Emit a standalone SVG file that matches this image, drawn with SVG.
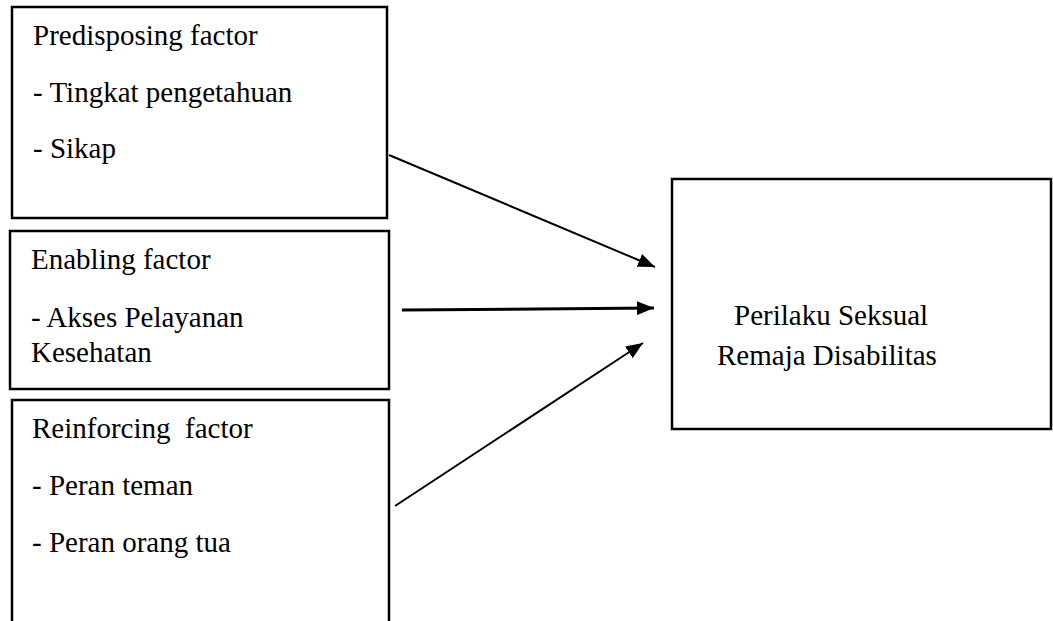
<svg xmlns="http://www.w3.org/2000/svg" width="1053" height="621" viewBox="0 0 1053 621">
<style>
.box{fill:#fff;stroke:#000;stroke-width:2.5}
.t{font-family:"Liberation Serif","Times New Roman",serif;font-size:29px;fill:#000}
.c{stroke:#000;fill:none}
</style>
<defs>
<marker id="ah" markerUnits="userSpaceOnUse" markerWidth="18" markerHeight="14" refX="17" refY="7" orient="auto">
<path d="M0,0 L17,7 L0,14 Z" fill="#000"/>
</marker>
</defs>
<rect width="1053" height="621" fill="#fff"/>
<g id="predisposing">
<rect class="box" x="12" y="7" width="375" height="211"/>
<text class="t" x="33" y="45">Predisposing factor</text>
<text class="t" x="33" y="102">- Tingkat pengetahuan</text>
<text class="t" x="33" y="158">- Sikap</text>
</g>
<g id="enabling">
<rect class="box" x="10" y="231" width="379" height="158"/>
<text class="t" x="31" y="269">Enabling factor</text>
<text class="t" x="31" y="327">- Akses Pelayanan</text>
<text class="t" x="31" y="362">Kesehatan</text>
</g>
<g id="reinforcing">
<rect class="box" x="12" y="400" width="377" height="240"/>
<text class="t" x="32" y="438" xml:space="preserve">Reinforcing  factor</text>
<text class="t" x="32" y="495">- Peran teman</text>
<text class="t" x="32" y="552">- Peran orang tua</text>
</g>
<g id="perilaku">
<rect class="box" x="672" y="179" width="379" height="250"/>
<text class="t" x="734" y="325">Perilaku Seksual</text>
<text class="t" x="717" y="365">Remaja Disabilitas</text>
</g>
<g id="connectors">
<line class="c" stroke-width="2" x1="389" y1="155" x2="655" y2="267" marker-end="url(#ah)"/>
<line class="c" stroke-width="3" x1="402" y1="310" x2="654" y2="308" marker-end="url(#ah)"/>
<line class="c" stroke-width="2" x1="395" y1="506" x2="643" y2="343" marker-end="url(#ah)"/>
</g>
</svg>
